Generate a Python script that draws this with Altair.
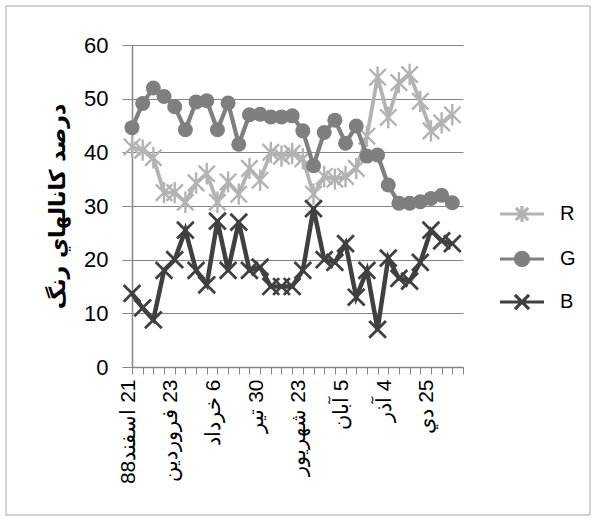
import altair as alt
import pandas as pd

# ---------------- data ----------------
series_names = ["R", "G", "B"]
R_values = [41, 40.4, 39, 32.5, 32.5, 30.7, 34.3, 36, 30.7, 34.5, 32.2, 37, 34.8, 40, 39.3,
            39.8, 38.8, 32.2, 35.5, 35, 35.5, 37, 43, 54, 46.5, 53, 54.5, 49.5, 44, 45.5, 47]
G_values = [44.6, 49.1, 52, 50.4, 48.5, 44.2, 49.4, 49.6, 44.2, 49.2, 41.5, 47, 47.1, 46.6, 46.6,
            46.8, 44, 37.5, 43.7, 46, 41.7, 44.9, 39.3, 39.5, 33.9, 30.5, 30.5, 30.8, 31.4, 32, 30.6]
B_values = [13.7, 11, 8.8, 18, 20, 25.5, 18, 15.3, 27.2, 18, 27, 18, 18.6, 15, 15,
            15, 18, 29.5, 20, 19.5, 23, 13, 18, 7, 20.3, 16.5, 16, 19.5, 25.5, 23.5, 23]
n_categories = 32
tick_label_positions = [0, 4, 8, 12, 16, 20, 24, 28]
tick_labels = ["21 اسفند88", "23 فروردین", "6 خرداد", "30 تیر",
               "23 شهریور", "5 آبان", "4 آذر", "25 دي"]
y_title = "درصد كانالهاي رنگ"

values_by_series = {"R": R_values, "G": G_values, "B": B_values}
rows = []
for s in series_names:
    for i, v in enumerate(values_by_series[s]):
        rows.append({"series": s, "idx": i, "value": v})
df = pd.DataFrame(rows)

# ---------------- styles ----------------
colors = {"R": "#b3b3b3", "G": "#7f7f7f", "B": "#404040"}
line_w = {"R": 3.8, "G": 4.2, "B": 4.5}
STAR = "M-1,-1L1,1M-1,1L1,-1M0,-1.3L0,1.3"
CROSS = "M-1,-1L1,1M-1,1L1,-1"
legend_paths = [
    "M-1,0L1,0M-0.28,-0.28L0.28,0.28M-0.28,0.28L0.28,-0.28M0,-0.36L0,0.36",
    "M-1,0L1,0M0.3,0A0.3,0.3 0 1,1 -0.3,0A0.3,0.3 0 1,1 0.3,0"
    "M0.2,0A0.2,0.2 0 1,1 -0.2,0A0.2,0.2 0 1,1 0.2,0"
    "M0.09,0A0.09,0.09 0 1,1 -0.09,0A0.09,0.09 0 1,1 0.09,0",
    "M-1,0L1,0M-0.32,-0.32L0.32,0.32M-0.32,0.32L0.32,-0.32",
]

NARROW = "'Liberation Sans Narrow', 'Liberation Sans', sans-serif"
GRAY = "#868686"

label_expr = ""
for p, t in zip(tick_label_positions, tick_labels):
    label_expr += f"datum.value == {p} ? '\u202b{t}\u202c' : "
label_expr += "''"

x_enc = alt.X(
    "idx:Q",
    scale=alt.Scale(domain=[0, n_categories - 1], nice=False, zero=False),
    axis=alt.Axis(
        values=list(range(n_categories)),
        labelExpr=label_expr,
        labelAngle=270,
        labelOverlap=False,
        labelFlush=False,
        labelFont=NARROW,
        labelFontSize=21,
        labelColor="black",
        labelPadding=5,
        labelOffset=-4,
        grid=False,
        domainColor=GRAY,
        domainWidth=1.5,
        tickColor=GRAY,
        tickSize=7,
        title=None,
    ),
)
y_enc = alt.Y(
    "value:Q",
    scale=alt.Scale(domain=[0, 60], nice=False),
    axis=alt.Axis(
        values=[0, 10, 20, 30, 40, 50, 60],
        grid=True,
        gridColor=GRAY,
        gridWidth=1.2,
        domainColor=GRAY,
        domainWidth=1.5,
        tickColor=GRAY,
        tickSize=10,
        labelFont=NARROW,
        labelFontSize=22,
        labelColor="black",
        labelPadding=14,
        title=y_title,
        titleFont="DejaVu Sans",
        titleFontSize=22,
        titleFontWeight="bold",
        titleColor="black",
        titleAngle=270,
        titleX=-75,
        titleY=161,
        titleAlign="center",
        titleBaseline="middle",
    ),
)

base = alt.Chart(df)
layers = []
for s in series_names:
    sub = base.transform_filter(alt.datum.series == s)
    layers.append(sub.mark_line(color=colors[s], strokeWidth=line_w[s]).encode(x=x_enc, y=y_enc))
    if s == "G":
        pts = sub.mark_point(shape="circle", filled=True, color=colors[s], size=225, opacity=1)
    elif s == "R":
        pts = sub.mark_point(shape=STAR, filled=False, color=colors[s], size=270, strokeWidth=2.4, opacity=1)
    else:
        pts = sub.mark_point(shape=CROSS, filled=False, color=colors[s], size=280, strokeWidth=2.8, opacity=1)
    layers.append(pts.encode(x=x_enc, y=y_enc))

leg = alt.Legend(
    title=None,
    orient="none",
    legendX=366,
    legendY=145,
    symbolSize=1936,
    symbolStrokeWidth=3.2,
    labelFont=NARROW,
    labelFontSize=20,
    labelColor="black",
    labelOffset=14,
    rowPadding=6,
    padding=0,
)
legend_layer = base.transform_filter("false").mark_point(filled=False, strokeWidth=3, opacity=1).encode(
    color=alt.Color("series:N", scale=alt.Scale(domain=series_names, range=[colors[s] for s in series_names]), legend=leg),
    shape=alt.Shape("series:N", scale=alt.Scale(domain=series_names, range=legend_paths), legend=leg),
)
layers.append(legend_layer)

frame = alt.Chart(pd.DataFrame({"k": [0]})).mark_rect(fill="transparent", stroke="#a6a6a6", strokeWidth=1).encode(
    x=alt.value(-126), x2=alt.value(458), y=alt.value(-39), y2=alt.value(470)
)
layers.append(frame)

chart = alt.layer(*layers).properties(
    width=331,
    height=322,
    padding={"left": 132, "top": 45, "right": 134, "bottom": 157},
    autosize=alt.AutoSizeParams(type="none"),
    background="white",
).configure_view(stroke=None)

chart.save("out.html", embed_options={"renderer": "svg", "actions": False})
